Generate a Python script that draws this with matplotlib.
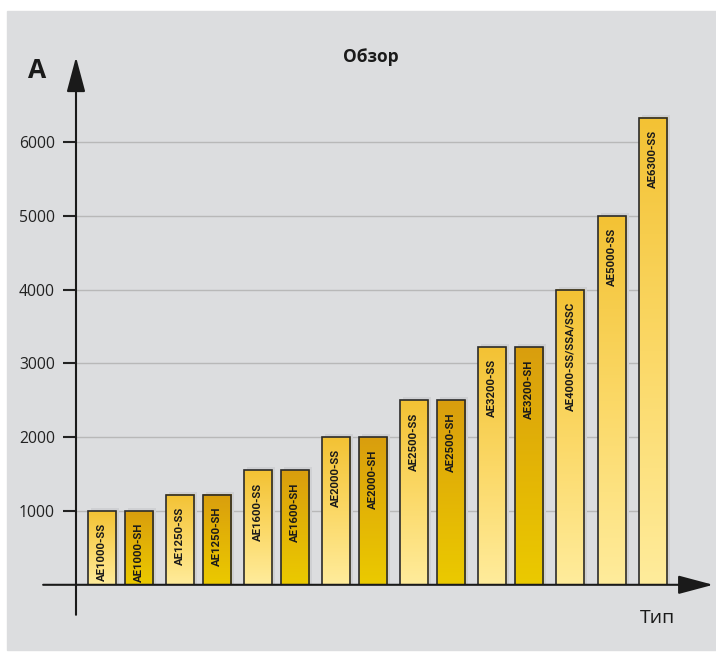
import numpy as np
import matplotlib
matplotlib.use("Agg")
import matplotlib.pyplot as plt
from matplotlib.patches import Rectangle
from matplotlib.colors import LinearSegmentedColormap

# data
types = ["AE1000-SS", "AE1000-SH", "AE1250-SS", "AE1250-SH", "AE1600-SS", "AE1600-SH",
         "AE2000-SS", "AE2000-SH", "AE2500-SS", "AE2500-SH", "AE3200-SS", "AE3200-SH",
         "AE4000-SS/SSA/SSC", "AE5000-SS", "AE6300-SS"]
amps = [1000, 1000, 1220, 1220, 1550, 1550, 2000, 2000, 2500, 2500, 3220, 3220,
        4000, 5000, 6330]
yticks = [1000, 2000, 3000, 4000, 5000, 6000]

W, H = 716, 653
def fpx(x, y):
    return x / W, 1 - y / H

plt.rcParams['font.family'] = ['Open Sans', 'DejaVu Sans']

fig = plt.figure(figsize=(W / 100, H / 100), dpi=100)
fig.patches.append(Rectangle((7 / W, 3 / H), (W - 7) / W, 639 / H,
                             transform=fig.transFigure, color='#dcdddf', zorder=-10))

# axes: baseline at y=584.8px, 73.8 px per 1000 A, 39 px per slot
ax = fig.add_axes([76 / W, (H - 584.8) / H, 624 / W, 524.8 / H])
ax.set_facecolor('none')
ax.set_zorder(1)
xlo, xhi = -0.667, 15.333
ylo, yhi = 0, 524.8 / 73.8 * 1000
ax.set_xlim(xlo, xhi)
ax.set_ylim(ylo, yhi)

n = len(amps)
pos = np.arange(n, dtype=float)
pos[1:12:2] -= 0.04
pos[13:] += np.array([0.08, 0.13])
bw = 0.72
dx, dy = 3 / 39, 3 / 73.8 * 1000

cm_ss = LinearSegmentedColormap.from_list('ss', ['#ffec9c', '#fbd866', '#f3c234'])
cm_sh = LinearSegmentedColormap.from_list('sh', ['#ebca00', '#e3b406', '#d99e0e'])
grad = np.linspace(0, 1, 256).reshape(-1, 1)

ax.hlines(yticks, xlo, pos[-1], color='#b8b8b8', lw=1, zorder=1)

for x, v, lab in zip(pos, amps, types):
    cm = cm_sh if lab.endswith('SH') else cm_ss
    ax.add_patch(Rectangle((x - bw / 2 + dx, 0), bw, v + dy, color='#cfd0d3', lw=0, zorder=1.5))
    ax.imshow(grad, extent=[x - bw / 2, x + bw / 2, 0, v], origin='lower', cmap=cm,
              aspect='auto', interpolation='bilinear', zorder=2)
    ax.add_patch(Rectangle((x - bw / 2, 0), bw, v, fill=False, ec='#2b2b2b', lw=1.2, zorder=3))
    ax.text(x, v - 12 / 73.8 * 1000, lab, rotation=90, ha='center', va='top',
            fontsize=8.2, fontweight='bold', color='#1a1a1a', zorder=4,
            family=['Roboto', 'DejaVu Sans'])

ax.set_xlim(xlo, xhi)
ax.set_ylim(ylo, yhi)

for s in ax.spines.values():
    s.set_visible(False)
ax.set_xticks([])
ax.set_yticks(yticks)
ax.set_yticklabels([str(t) for t in yticks])
ax.tick_params(axis='y', direction='out', length=9.4, width=1.5, color='#222222',
               pad=5.8, labelsize=11.3, labelcolor='#222222')

arrow = dict(arrowstyle='-|>,head_length=1.5,head_width=0.4', mutation_scale=14.4,
             lw=1.5, color='#1a1a1a', shrinkA=0, shrinkB=0)
ax.annotate('', xy=(xlo, yhi + 40), xytext=(xlo, -30 / 73.8 * 1000), arrowprops=arrow,
            annotation_clip=False)
ax.annotate('', xy=(15.67, 0), xytext=(-1.51, 0), arrowprops=arrow,
            annotation_clip=False)

fig.text(*fpx(371, 57), 'Обзор', ha='center', va='center', fontsize=12.5,
         fontweight='bold', color='#1a1a1a')
fig.text(*fpx(37, 71), 'А', ha='center', va='center', fontsize=19,
         fontweight='bold', color='#1a1a1a')
fig.text(*fpx(658, 618), 'Тип', ha='center', va='center', fontsize=14,
         color='#1a1a1a')

fig.savefig('out.png', dpi=100)
